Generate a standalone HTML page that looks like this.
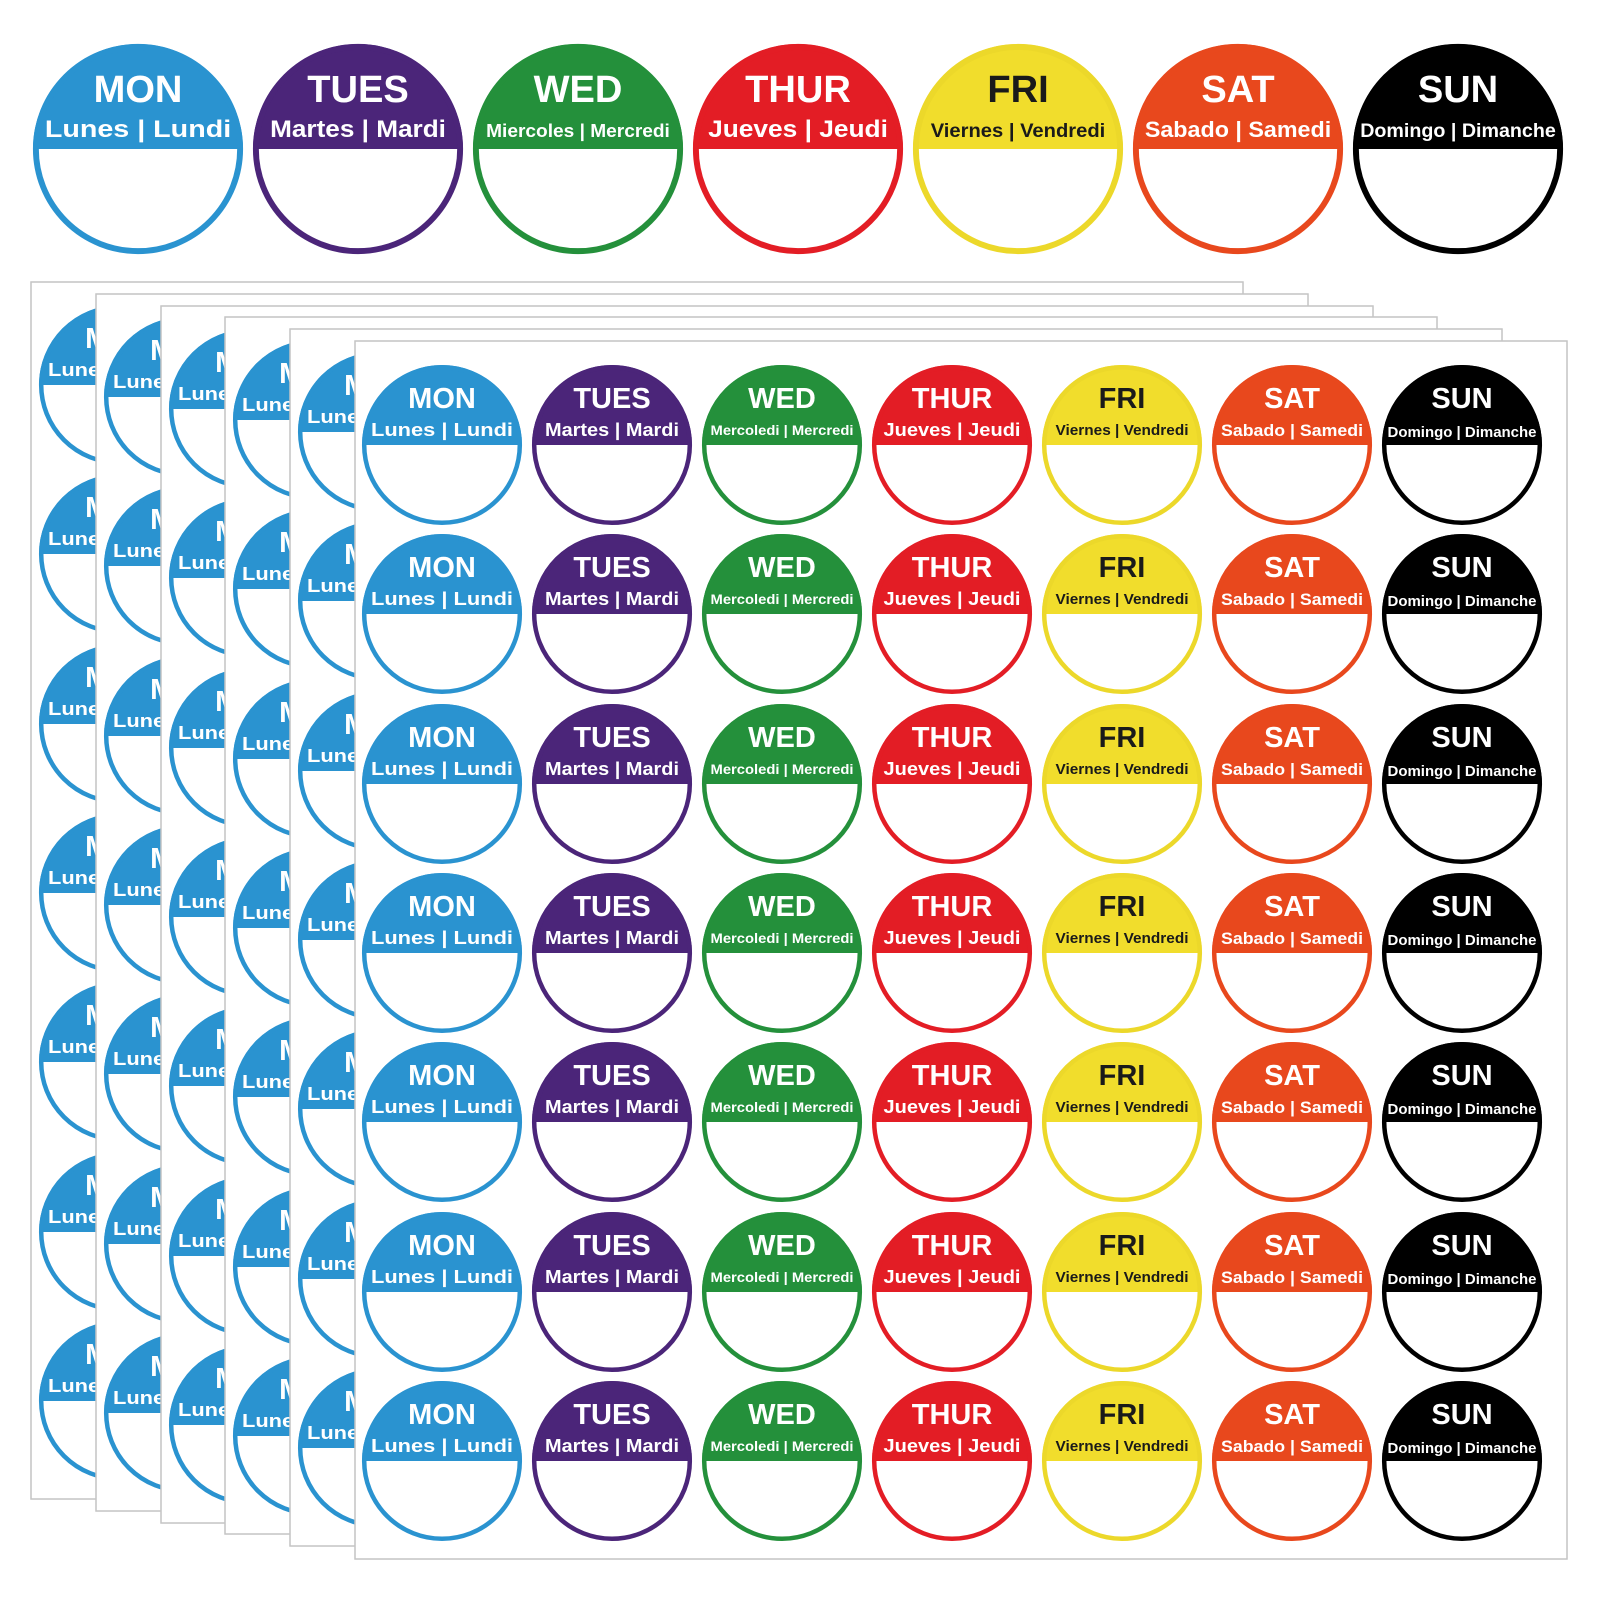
<!DOCTYPE html>
<html><head><meta charset="utf-8"><style>
html,body{margin:0;padding:0;background:#fff}
svg{display:block}
text{font-family:"Liberation Sans",Arial,sans-serif;font-weight:bold;text-anchor:middle;fill:#fff}
.d{font-size:29px}
.w{fill:#fff}
.o{fill:none;stroke-width:4.5}
.sh{fill:#fff;stroke:#c4c4c4;stroke-width:1.5}
.m path{fill:#2a93d0}.m .o{stroke:#2a93d0}.m .s{font-size:18px}
.t path{fill:#4b2579}.t .o{stroke:#4b2579}.t .s{font-size:18px}
.e path{fill:#24903b}.e .o{stroke:#24903b}.e .s{font-size:14px}
.h path{fill:#e31d25}.h .o{stroke:#e31d25}.h .s{font-size:18px}
.f path{fill:#f1dd2c}.f .o{stroke:#ecd82a}.f .s{font-size:15px}.f text{fill:#1a1a1a}
.a path{fill:#e8481d}.a .o{stroke:#e8481d}.a .s{font-size:17px}
.u path{fill:#000}.u .o{stroke:#000}.u .s{font-size:14.5px}
</style></head><body>
<svg width="1600" height="1600" viewBox="0 0 1600 1600" xmlns="http://www.w3.org/2000/svg">
<rect width="1600" height="1600" fill="#fff"/>

<!-- top row -->
<g class="m" transform="translate(138,149) scale(1.3125)"><circle r="80" class="w"/><path d="M-80 0A80 80 0 0 1 80 0Z"/><circle r="77.8" class="o"/><text y="-36" class="d">MON</text><text y="-9" class="s" textLength="142" lengthAdjust="spacingAndGlyphs">Lunes | Lundi</text></g>
<g class="t" transform="translate(358,149) scale(1.3125)"><circle r="80" class="w"/><path d="M-80 0A80 80 0 0 1 80 0Z"/><circle r="77.8" class="o"/><text y="-36" class="d">TUES</text><text y="-9" class="s" textLength="134" lengthAdjust="spacingAndGlyphs">Martes | Mardi</text></g>
<g class="e" transform="translate(578,149) scale(1.3125)"><circle r="80" class="w"/><path d="M-80 0A80 80 0 0 1 80 0Z"/><circle r="77.8" class="o"/><text y="-36" class="d">WED</text><text y="-9" class="s" textLength="140" lengthAdjust="spacingAndGlyphs">Miercoles | Mercredi</text></g>
<g class="h" transform="translate(798,149) scale(1.3125)"><circle r="80" class="w"/><path d="M-80 0A80 80 0 0 1 80 0Z"/><circle r="77.8" class="o"/><text y="-36" class="d">THUR</text><text y="-9" class="s" textLength="137" lengthAdjust="spacingAndGlyphs">Jueves | Jeudi</text></g>
<g class="f" transform="translate(1018,149) scale(1.3125)"><circle r="80" class="w"/><path d="M-80 0A80 80 0 0 1 80 0Z"/><circle r="77.8" class="o"/><text y="-36" class="d">FRI</text><text y="-9" class="s" textLength="133" lengthAdjust="spacingAndGlyphs">Viernes | Vendredi</text></g>
<g class="a" transform="translate(1238,149) scale(1.3125)"><circle r="80" class="w"/><path d="M-80 0A80 80 0 0 1 80 0Z"/><circle r="77.8" class="o"/><text y="-36" class="d">SAT</text><text y="-9" class="s" textLength="142" lengthAdjust="spacingAndGlyphs">Sabado | Samedi</text></g>
<g class="u" transform="translate(1458,149) scale(1.3125)"><circle r="80" class="w"/><path d="M-80 0A80 80 0 0 1 80 0Z"/><circle r="77.8" class="o"/><text y="-36" class="d">SUN</text><text y="-9" class="s" textLength="149" lengthAdjust="spacingAndGlyphs">Domingo | Dimanche</text></g>

<!-- sheet 0 -->
<rect class="sh" x="31" y="282" width="1212" height="1217"/>
<g class="m" transform="translate(119,385)"><circle r="80" class="w"/><path d="M-80 0A80 80 0 0 1 80 0Z"/><circle r="77.8" class="o"/><text y="-37" class="d">MON</text><text y="-9" class="s" textLength="142" lengthAdjust="spacingAndGlyphs">Lunes | Lundi</text></g>
<g class="m" transform="translate(119,554)"><circle r="80" class="w"/><path d="M-80 0A80 80 0 0 1 80 0Z"/><circle r="77.8" class="o"/><text y="-37" class="d">MON</text><text y="-9" class="s" textLength="142" lengthAdjust="spacingAndGlyphs">Lunes | Lundi</text></g>
<g class="m" transform="translate(119,724)"><circle r="80" class="w"/><path d="M-80 0A80 80 0 0 1 80 0Z"/><circle r="77.8" class="o"/><text y="-37" class="d">MON</text><text y="-9" class="s" textLength="142" lengthAdjust="spacingAndGlyphs">Lunes | Lundi</text></g>
<g class="m" transform="translate(119,893)"><circle r="80" class="w"/><path d="M-80 0A80 80 0 0 1 80 0Z"/><circle r="77.8" class="o"/><text y="-37" class="d">MON</text><text y="-9" class="s" textLength="142" lengthAdjust="spacingAndGlyphs">Lunes | Lundi</text></g>
<g class="m" transform="translate(119,1062)"><circle r="80" class="w"/><path d="M-80 0A80 80 0 0 1 80 0Z"/><circle r="77.8" class="o"/><text y="-37" class="d">MON</text><text y="-9" class="s" textLength="142" lengthAdjust="spacingAndGlyphs">Lunes | Lundi</text></g>
<g class="m" transform="translate(119,1232)"><circle r="80" class="w"/><path d="M-80 0A80 80 0 0 1 80 0Z"/><circle r="77.8" class="o"/><text y="-37" class="d">MON</text><text y="-9" class="s" textLength="142" lengthAdjust="spacingAndGlyphs">Lunes | Lundi</text></g>
<g class="m" transform="translate(119,1401)"><circle r="80" class="w"/><path d="M-80 0A80 80 0 0 1 80 0Z"/><circle r="77.8" class="o"/><text y="-37" class="d">MON</text><text y="-9" class="s" textLength="142" lengthAdjust="spacingAndGlyphs">Lunes | Lundi</text></g>

<!-- sheet 1 -->
<rect class="sh" x="96" y="294" width="1212" height="1217"/>
<g class="m" transform="translate(184,397)"><circle r="80" class="w"/><path d="M-80 0A80 80 0 0 1 80 0Z"/><circle r="77.8" class="o"/><text y="-37" class="d">MON</text><text y="-9" class="s" textLength="142" lengthAdjust="spacingAndGlyphs">Lunes | Lundi</text></g>
<g class="m" transform="translate(184,566)"><circle r="80" class="w"/><path d="M-80 0A80 80 0 0 1 80 0Z"/><circle r="77.8" class="o"/><text y="-37" class="d">MON</text><text y="-9" class="s" textLength="142" lengthAdjust="spacingAndGlyphs">Lunes | Lundi</text></g>
<g class="m" transform="translate(184,736)"><circle r="80" class="w"/><path d="M-80 0A80 80 0 0 1 80 0Z"/><circle r="77.8" class="o"/><text y="-37" class="d">MON</text><text y="-9" class="s" textLength="142" lengthAdjust="spacingAndGlyphs">Lunes | Lundi</text></g>
<g class="m" transform="translate(184,905)"><circle r="80" class="w"/><path d="M-80 0A80 80 0 0 1 80 0Z"/><circle r="77.8" class="o"/><text y="-37" class="d">MON</text><text y="-9" class="s" textLength="142" lengthAdjust="spacingAndGlyphs">Lunes | Lundi</text></g>
<g class="m" transform="translate(184,1074)"><circle r="80" class="w"/><path d="M-80 0A80 80 0 0 1 80 0Z"/><circle r="77.8" class="o"/><text y="-37" class="d">MON</text><text y="-9" class="s" textLength="142" lengthAdjust="spacingAndGlyphs">Lunes | Lundi</text></g>
<g class="m" transform="translate(184,1244)"><circle r="80" class="w"/><path d="M-80 0A80 80 0 0 1 80 0Z"/><circle r="77.8" class="o"/><text y="-37" class="d">MON</text><text y="-9" class="s" textLength="142" lengthAdjust="spacingAndGlyphs">Lunes | Lundi</text></g>
<g class="m" transform="translate(184,1413)"><circle r="80" class="w"/><path d="M-80 0A80 80 0 0 1 80 0Z"/><circle r="77.8" class="o"/><text y="-37" class="d">MON</text><text y="-9" class="s" textLength="142" lengthAdjust="spacingAndGlyphs">Lunes | Lundi</text></g>

<!-- sheet 2 -->
<rect class="sh" x="161" y="306" width="1212" height="1217"/>
<g class="m" transform="translate(249,409)"><circle r="80" class="w"/><path d="M-80 0A80 80 0 0 1 80 0Z"/><circle r="77.8" class="o"/><text y="-37" class="d">MON</text><text y="-9" class="s" textLength="142" lengthAdjust="spacingAndGlyphs">Lunes | Lundi</text></g>
<g class="m" transform="translate(249,578)"><circle r="80" class="w"/><path d="M-80 0A80 80 0 0 1 80 0Z"/><circle r="77.8" class="o"/><text y="-37" class="d">MON</text><text y="-9" class="s" textLength="142" lengthAdjust="spacingAndGlyphs">Lunes | Lundi</text></g>
<g class="m" transform="translate(249,748)"><circle r="80" class="w"/><path d="M-80 0A80 80 0 0 1 80 0Z"/><circle r="77.8" class="o"/><text y="-37" class="d">MON</text><text y="-9" class="s" textLength="142" lengthAdjust="spacingAndGlyphs">Lunes | Lundi</text></g>
<g class="m" transform="translate(249,917)"><circle r="80" class="w"/><path d="M-80 0A80 80 0 0 1 80 0Z"/><circle r="77.8" class="o"/><text y="-37" class="d">MON</text><text y="-9" class="s" textLength="142" lengthAdjust="spacingAndGlyphs">Lunes | Lundi</text></g>
<g class="m" transform="translate(249,1086)"><circle r="80" class="w"/><path d="M-80 0A80 80 0 0 1 80 0Z"/><circle r="77.8" class="o"/><text y="-37" class="d">MON</text><text y="-9" class="s" textLength="142" lengthAdjust="spacingAndGlyphs">Lunes | Lundi</text></g>
<g class="m" transform="translate(249,1256)"><circle r="80" class="w"/><path d="M-80 0A80 80 0 0 1 80 0Z"/><circle r="77.8" class="o"/><text y="-37" class="d">MON</text><text y="-9" class="s" textLength="142" lengthAdjust="spacingAndGlyphs">Lunes | Lundi</text></g>
<g class="m" transform="translate(249,1425)"><circle r="80" class="w"/><path d="M-80 0A80 80 0 0 1 80 0Z"/><circle r="77.8" class="o"/><text y="-37" class="d">MON</text><text y="-9" class="s" textLength="142" lengthAdjust="spacingAndGlyphs">Lunes | Lundi</text></g>

<!-- sheet 3 -->
<rect class="sh" x="225" y="317" width="1212" height="1217"/>
<g class="m" transform="translate(313,420)"><circle r="80" class="w"/><path d="M-80 0A80 80 0 0 1 80 0Z"/><circle r="77.8" class="o"/><text y="-37" class="d">MON</text><text y="-9" class="s" textLength="142" lengthAdjust="spacingAndGlyphs">Lunes | Lundi</text></g>
<g class="m" transform="translate(313,589)"><circle r="80" class="w"/><path d="M-80 0A80 80 0 0 1 80 0Z"/><circle r="77.8" class="o"/><text y="-37" class="d">MON</text><text y="-9" class="s" textLength="142" lengthAdjust="spacingAndGlyphs">Lunes | Lundi</text></g>
<g class="m" transform="translate(313,759)"><circle r="80" class="w"/><path d="M-80 0A80 80 0 0 1 80 0Z"/><circle r="77.8" class="o"/><text y="-37" class="d">MON</text><text y="-9" class="s" textLength="142" lengthAdjust="spacingAndGlyphs">Lunes | Lundi</text></g>
<g class="m" transform="translate(313,928)"><circle r="80" class="w"/><path d="M-80 0A80 80 0 0 1 80 0Z"/><circle r="77.8" class="o"/><text y="-37" class="d">MON</text><text y="-9" class="s" textLength="142" lengthAdjust="spacingAndGlyphs">Lunes | Lundi</text></g>
<g class="m" transform="translate(313,1097)"><circle r="80" class="w"/><path d="M-80 0A80 80 0 0 1 80 0Z"/><circle r="77.8" class="o"/><text y="-37" class="d">MON</text><text y="-9" class="s" textLength="142" lengthAdjust="spacingAndGlyphs">Lunes | Lundi</text></g>
<g class="m" transform="translate(313,1267)"><circle r="80" class="w"/><path d="M-80 0A80 80 0 0 1 80 0Z"/><circle r="77.8" class="o"/><text y="-37" class="d">MON</text><text y="-9" class="s" textLength="142" lengthAdjust="spacingAndGlyphs">Lunes | Lundi</text></g>
<g class="m" transform="translate(313,1436)"><circle r="80" class="w"/><path d="M-80 0A80 80 0 0 1 80 0Z"/><circle r="77.8" class="o"/><text y="-37" class="d">MON</text><text y="-9" class="s" textLength="142" lengthAdjust="spacingAndGlyphs">Lunes | Lundi</text></g>

<!-- sheet 4 -->
<rect class="sh" x="290" y="329" width="1212" height="1217"/>
<g class="m" transform="translate(378,432)"><circle r="80" class="w"/><path d="M-80 0A80 80 0 0 1 80 0Z"/><circle r="77.8" class="o"/><text y="-37" class="d">MON</text><text y="-9" class="s" textLength="142" lengthAdjust="spacingAndGlyphs">Lunes | Lundi</text></g>
<g class="m" transform="translate(378,601)"><circle r="80" class="w"/><path d="M-80 0A80 80 0 0 1 80 0Z"/><circle r="77.8" class="o"/><text y="-37" class="d">MON</text><text y="-9" class="s" textLength="142" lengthAdjust="spacingAndGlyphs">Lunes | Lundi</text></g>
<g class="m" transform="translate(378,771)"><circle r="80" class="w"/><path d="M-80 0A80 80 0 0 1 80 0Z"/><circle r="77.8" class="o"/><text y="-37" class="d">MON</text><text y="-9" class="s" textLength="142" lengthAdjust="spacingAndGlyphs">Lunes | Lundi</text></g>
<g class="m" transform="translate(378,940)"><circle r="80" class="w"/><path d="M-80 0A80 80 0 0 1 80 0Z"/><circle r="77.8" class="o"/><text y="-37" class="d">MON</text><text y="-9" class="s" textLength="142" lengthAdjust="spacingAndGlyphs">Lunes | Lundi</text></g>
<g class="m" transform="translate(378,1109)"><circle r="80" class="w"/><path d="M-80 0A80 80 0 0 1 80 0Z"/><circle r="77.8" class="o"/><text y="-37" class="d">MON</text><text y="-9" class="s" textLength="142" lengthAdjust="spacingAndGlyphs">Lunes | Lundi</text></g>
<g class="m" transform="translate(378,1279)"><circle r="80" class="w"/><path d="M-80 0A80 80 0 0 1 80 0Z"/><circle r="77.8" class="o"/><text y="-37" class="d">MON</text><text y="-9" class="s" textLength="142" lengthAdjust="spacingAndGlyphs">Lunes | Lundi</text></g>
<g class="m" transform="translate(378,1448)"><circle r="80" class="w"/><path d="M-80 0A80 80 0 0 1 80 0Z"/><circle r="77.8" class="o"/><text y="-37" class="d">MON</text><text y="-9" class="s" textLength="142" lengthAdjust="spacingAndGlyphs">Lunes | Lundi</text></g>

<!-- front sheet -->
<rect class="sh" x="355" y="341" width="1212" height="1218"/>
<g class="m" transform="translate(442,445)"><circle r="80" class="w"/><path d="M-80 0A80 80 0 0 1 80 0Z"/><circle r="77.8" class="o"/><text y="-37" class="d">MON</text><text y="-9" class="s" textLength="142" lengthAdjust="spacingAndGlyphs">Lunes | Lundi</text></g>
<g class="m" transform="translate(442,614)"><circle r="80" class="w"/><path d="M-80 0A80 80 0 0 1 80 0Z"/><circle r="77.8" class="o"/><text y="-37" class="d">MON</text><text y="-9" class="s" textLength="142" lengthAdjust="spacingAndGlyphs">Lunes | Lundi</text></g>
<g class="m" transform="translate(442,784)"><circle r="80" class="w"/><path d="M-80 0A80 80 0 0 1 80 0Z"/><circle r="77.8" class="o"/><text y="-37" class="d">MON</text><text y="-9" class="s" textLength="142" lengthAdjust="spacingAndGlyphs">Lunes | Lundi</text></g>
<g class="m" transform="translate(442,953)"><circle r="80" class="w"/><path d="M-80 0A80 80 0 0 1 80 0Z"/><circle r="77.8" class="o"/><text y="-37" class="d">MON</text><text y="-9" class="s" textLength="142" lengthAdjust="spacingAndGlyphs">Lunes | Lundi</text></g>
<g class="m" transform="translate(442,1122)"><circle r="80" class="w"/><path d="M-80 0A80 80 0 0 1 80 0Z"/><circle r="77.8" class="o"/><text y="-37" class="d">MON</text><text y="-9" class="s" textLength="142" lengthAdjust="spacingAndGlyphs">Lunes | Lundi</text></g>
<g class="m" transform="translate(442,1292)"><circle r="80" class="w"/><path d="M-80 0A80 80 0 0 1 80 0Z"/><circle r="77.8" class="o"/><text y="-37" class="d">MON</text><text y="-9" class="s" textLength="142" lengthAdjust="spacingAndGlyphs">Lunes | Lundi</text></g>
<g class="m" transform="translate(442,1461)"><circle r="80" class="w"/><path d="M-80 0A80 80 0 0 1 80 0Z"/><circle r="77.8" class="o"/><text y="-37" class="d">MON</text><text y="-9" class="s" textLength="142" lengthAdjust="spacingAndGlyphs">Lunes | Lundi</text></g>

<g class="t" transform="translate(612,445)"><circle r="80" class="w"/><path d="M-80 0A80 80 0 0 1 80 0Z"/><circle r="77.8" class="o"/><text y="-37" class="d">TUES</text><text y="-9" class="s" textLength="134" lengthAdjust="spacingAndGlyphs">Martes | Mardi</text></g>
<g class="t" transform="translate(612,614)"><circle r="80" class="w"/><path d="M-80 0A80 80 0 0 1 80 0Z"/><circle r="77.8" class="o"/><text y="-37" class="d">TUES</text><text y="-9" class="s" textLength="134" lengthAdjust="spacingAndGlyphs">Martes | Mardi</text></g>
<g class="t" transform="translate(612,784)"><circle r="80" class="w"/><path d="M-80 0A80 80 0 0 1 80 0Z"/><circle r="77.8" class="o"/><text y="-37" class="d">TUES</text><text y="-9" class="s" textLength="134" lengthAdjust="spacingAndGlyphs">Martes | Mardi</text></g>
<g class="t" transform="translate(612,953)"><circle r="80" class="w"/><path d="M-80 0A80 80 0 0 1 80 0Z"/><circle r="77.8" class="o"/><text y="-37" class="d">TUES</text><text y="-9" class="s" textLength="134" lengthAdjust="spacingAndGlyphs">Martes | Mardi</text></g>
<g class="t" transform="translate(612,1122)"><circle r="80" class="w"/><path d="M-80 0A80 80 0 0 1 80 0Z"/><circle r="77.8" class="o"/><text y="-37" class="d">TUES</text><text y="-9" class="s" textLength="134" lengthAdjust="spacingAndGlyphs">Martes | Mardi</text></g>
<g class="t" transform="translate(612,1292)"><circle r="80" class="w"/><path d="M-80 0A80 80 0 0 1 80 0Z"/><circle r="77.8" class="o"/><text y="-37" class="d">TUES</text><text y="-9" class="s" textLength="134" lengthAdjust="spacingAndGlyphs">Martes | Mardi</text></g>
<g class="t" transform="translate(612,1461)"><circle r="80" class="w"/><path d="M-80 0A80 80 0 0 1 80 0Z"/><circle r="77.8" class="o"/><text y="-37" class="d">TUES</text><text y="-9" class="s" textLength="134" lengthAdjust="spacingAndGlyphs">Martes | Mardi</text></g>

<g class="e" transform="translate(782,445)"><circle r="80" class="w"/><path d="M-80 0A80 80 0 0 1 80 0Z"/><circle r="77.8" class="o"/><text y="-37" class="d">WED</text><text y="-10" class="s" textLength="143" lengthAdjust="spacingAndGlyphs">Mercoledi | Mercredi</text></g>
<g class="e" transform="translate(782,614)"><circle r="80" class="w"/><path d="M-80 0A80 80 0 0 1 80 0Z"/><circle r="77.8" class="o"/><text y="-37" class="d">WED</text><text y="-10" class="s" textLength="143" lengthAdjust="spacingAndGlyphs">Mercoledi | Mercredi</text></g>
<g class="e" transform="translate(782,784)"><circle r="80" class="w"/><path d="M-80 0A80 80 0 0 1 80 0Z"/><circle r="77.8" class="o"/><text y="-37" class="d">WED</text><text y="-10" class="s" textLength="143" lengthAdjust="spacingAndGlyphs">Mercoledi | Mercredi</text></g>
<g class="e" transform="translate(782,953)"><circle r="80" class="w"/><path d="M-80 0A80 80 0 0 1 80 0Z"/><circle r="77.8" class="o"/><text y="-37" class="d">WED</text><text y="-10" class="s" textLength="143" lengthAdjust="spacingAndGlyphs">Mercoledi | Mercredi</text></g>
<g class="e" transform="translate(782,1122)"><circle r="80" class="w"/><path d="M-80 0A80 80 0 0 1 80 0Z"/><circle r="77.8" class="o"/><text y="-37" class="d">WED</text><text y="-10" class="s" textLength="143" lengthAdjust="spacingAndGlyphs">Mercoledi | Mercredi</text></g>
<g class="e" transform="translate(782,1292)"><circle r="80" class="w"/><path d="M-80 0A80 80 0 0 1 80 0Z"/><circle r="77.8" class="o"/><text y="-37" class="d">WED</text><text y="-10" class="s" textLength="143" lengthAdjust="spacingAndGlyphs">Mercoledi | Mercredi</text></g>
<g class="e" transform="translate(782,1461)"><circle r="80" class="w"/><path d="M-80 0A80 80 0 0 1 80 0Z"/><circle r="77.8" class="o"/><text y="-37" class="d">WED</text><text y="-10" class="s" textLength="143" lengthAdjust="spacingAndGlyphs">Mercoledi | Mercredi</text></g>

<g class="h" transform="translate(952,445)"><circle r="80" class="w"/><path d="M-80 0A80 80 0 0 1 80 0Z"/><circle r="77.8" class="o"/><text y="-37" class="d">THUR</text><text y="-9" class="s" textLength="137" lengthAdjust="spacingAndGlyphs">Jueves | Jeudi</text></g>
<g class="h" transform="translate(952,614)"><circle r="80" class="w"/><path d="M-80 0A80 80 0 0 1 80 0Z"/><circle r="77.8" class="o"/><text y="-37" class="d">THUR</text><text y="-9" class="s" textLength="137" lengthAdjust="spacingAndGlyphs">Jueves | Jeudi</text></g>
<g class="h" transform="translate(952,784)"><circle r="80" class="w"/><path d="M-80 0A80 80 0 0 1 80 0Z"/><circle r="77.8" class="o"/><text y="-37" class="d">THUR</text><text y="-9" class="s" textLength="137" lengthAdjust="spacingAndGlyphs">Jueves | Jeudi</text></g>
<g class="h" transform="translate(952,953)"><circle r="80" class="w"/><path d="M-80 0A80 80 0 0 1 80 0Z"/><circle r="77.8" class="o"/><text y="-37" class="d">THUR</text><text y="-9" class="s" textLength="137" lengthAdjust="spacingAndGlyphs">Jueves | Jeudi</text></g>
<g class="h" transform="translate(952,1122)"><circle r="80" class="w"/><path d="M-80 0A80 80 0 0 1 80 0Z"/><circle r="77.8" class="o"/><text y="-37" class="d">THUR</text><text y="-9" class="s" textLength="137" lengthAdjust="spacingAndGlyphs">Jueves | Jeudi</text></g>
<g class="h" transform="translate(952,1292)"><circle r="80" class="w"/><path d="M-80 0A80 80 0 0 1 80 0Z"/><circle r="77.8" class="o"/><text y="-37" class="d">THUR</text><text y="-9" class="s" textLength="137" lengthAdjust="spacingAndGlyphs">Jueves | Jeudi</text></g>
<g class="h" transform="translate(952,1461)"><circle r="80" class="w"/><path d="M-80 0A80 80 0 0 1 80 0Z"/><circle r="77.8" class="o"/><text y="-37" class="d">THUR</text><text y="-9" class="s" textLength="137" lengthAdjust="spacingAndGlyphs">Jueves | Jeudi</text></g>

<g class="f" transform="translate(1122,445)"><circle r="80" class="w"/><path d="M-80 0A80 80 0 0 1 80 0Z"/><circle r="77.8" class="o"/><text y="-37" class="d">FRI</text><text y="-10" class="s" textLength="133" lengthAdjust="spacingAndGlyphs">Viernes | Vendredi</text></g>
<g class="f" transform="translate(1122,614)"><circle r="80" class="w"/><path d="M-80 0A80 80 0 0 1 80 0Z"/><circle r="77.8" class="o"/><text y="-37" class="d">FRI</text><text y="-10" class="s" textLength="133" lengthAdjust="spacingAndGlyphs">Viernes | Vendredi</text></g>
<g class="f" transform="translate(1122,784)"><circle r="80" class="w"/><path d="M-80 0A80 80 0 0 1 80 0Z"/><circle r="77.8" class="o"/><text y="-37" class="d">FRI</text><text y="-10" class="s" textLength="133" lengthAdjust="spacingAndGlyphs">Viernes | Vendredi</text></g>
<g class="f" transform="translate(1122,953)"><circle r="80" class="w"/><path d="M-80 0A80 80 0 0 1 80 0Z"/><circle r="77.8" class="o"/><text y="-37" class="d">FRI</text><text y="-10" class="s" textLength="133" lengthAdjust="spacingAndGlyphs">Viernes | Vendredi</text></g>
<g class="f" transform="translate(1122,1122)"><circle r="80" class="w"/><path d="M-80 0A80 80 0 0 1 80 0Z"/><circle r="77.8" class="o"/><text y="-37" class="d">FRI</text><text y="-10" class="s" textLength="133" lengthAdjust="spacingAndGlyphs">Viernes | Vendredi</text></g>
<g class="f" transform="translate(1122,1292)"><circle r="80" class="w"/><path d="M-80 0A80 80 0 0 1 80 0Z"/><circle r="77.8" class="o"/><text y="-37" class="d">FRI</text><text y="-10" class="s" textLength="133" lengthAdjust="spacingAndGlyphs">Viernes | Vendredi</text></g>
<g class="f" transform="translate(1122,1461)"><circle r="80" class="w"/><path d="M-80 0A80 80 0 0 1 80 0Z"/><circle r="77.8" class="o"/><text y="-37" class="d">FRI</text><text y="-10" class="s" textLength="133" lengthAdjust="spacingAndGlyphs">Viernes | Vendredi</text></g>

<g class="a" transform="translate(1292,445)"><circle r="80" class="w"/><path d="M-80 0A80 80 0 0 1 80 0Z"/><circle r="77.8" class="o"/><text y="-37" class="d">SAT</text><text y="-9" class="s" textLength="142" lengthAdjust="spacingAndGlyphs">Sabado | Samedi</text></g>
<g class="a" transform="translate(1292,614)"><circle r="80" class="w"/><path d="M-80 0A80 80 0 0 1 80 0Z"/><circle r="77.8" class="o"/><text y="-37" class="d">SAT</text><text y="-9" class="s" textLength="142" lengthAdjust="spacingAndGlyphs">Sabado | Samedi</text></g>
<g class="a" transform="translate(1292,784)"><circle r="80" class="w"/><path d="M-80 0A80 80 0 0 1 80 0Z"/><circle r="77.8" class="o"/><text y="-37" class="d">SAT</text><text y="-9" class="s" textLength="142" lengthAdjust="spacingAndGlyphs">Sabado | Samedi</text></g>
<g class="a" transform="translate(1292,953)"><circle r="80" class="w"/><path d="M-80 0A80 80 0 0 1 80 0Z"/><circle r="77.8" class="o"/><text y="-37" class="d">SAT</text><text y="-9" class="s" textLength="142" lengthAdjust="spacingAndGlyphs">Sabado | Samedi</text></g>
<g class="a" transform="translate(1292,1122)"><circle r="80" class="w"/><path d="M-80 0A80 80 0 0 1 80 0Z"/><circle r="77.8" class="o"/><text y="-37" class="d">SAT</text><text y="-9" class="s" textLength="142" lengthAdjust="spacingAndGlyphs">Sabado | Samedi</text></g>
<g class="a" transform="translate(1292,1292)"><circle r="80" class="w"/><path d="M-80 0A80 80 0 0 1 80 0Z"/><circle r="77.8" class="o"/><text y="-37" class="d">SAT</text><text y="-9" class="s" textLength="142" lengthAdjust="spacingAndGlyphs">Sabado | Samedi</text></g>
<g class="a" transform="translate(1292,1461)"><circle r="80" class="w"/><path d="M-80 0A80 80 0 0 1 80 0Z"/><circle r="77.8" class="o"/><text y="-37" class="d">SAT</text><text y="-9" class="s" textLength="142" lengthAdjust="spacingAndGlyphs">Sabado | Samedi</text></g>

<g class="u" transform="translate(1462,445)"><circle r="80" class="w"/><path d="M-80 0A80 80 0 0 1 80 0Z"/><circle r="77.8" class="o"/><text y="-37" class="d">SUN</text><text y="-8" class="s" textLength="149" lengthAdjust="spacingAndGlyphs">Domingo | Dimanche</text></g>
<g class="u" transform="translate(1462,614)"><circle r="80" class="w"/><path d="M-80 0A80 80 0 0 1 80 0Z"/><circle r="77.8" class="o"/><text y="-37" class="d">SUN</text><text y="-8" class="s" textLength="149" lengthAdjust="spacingAndGlyphs">Domingo | Dimanche</text></g>
<g class="u" transform="translate(1462,784)"><circle r="80" class="w"/><path d="M-80 0A80 80 0 0 1 80 0Z"/><circle r="77.8" class="o"/><text y="-37" class="d">SUN</text><text y="-8" class="s" textLength="149" lengthAdjust="spacingAndGlyphs">Domingo | Dimanche</text></g>
<g class="u" transform="translate(1462,953)"><circle r="80" class="w"/><path d="M-80 0A80 80 0 0 1 80 0Z"/><circle r="77.8" class="o"/><text y="-37" class="d">SUN</text><text y="-8" class="s" textLength="149" lengthAdjust="spacingAndGlyphs">Domingo | Dimanche</text></g>
<g class="u" transform="translate(1462,1122)"><circle r="80" class="w"/><path d="M-80 0A80 80 0 0 1 80 0Z"/><circle r="77.8" class="o"/><text y="-37" class="d">SUN</text><text y="-8" class="s" textLength="149" lengthAdjust="spacingAndGlyphs">Domingo | Dimanche</text></g>
<g class="u" transform="translate(1462,1292)"><circle r="80" class="w"/><path d="M-80 0A80 80 0 0 1 80 0Z"/><circle r="77.8" class="o"/><text y="-37" class="d">SUN</text><text y="-8" class="s" textLength="149" lengthAdjust="spacingAndGlyphs">Domingo | Dimanche</text></g>
<g class="u" transform="translate(1462,1461)"><circle r="80" class="w"/><path d="M-80 0A80 80 0 0 1 80 0Z"/><circle r="77.8" class="o"/><text y="-37" class="d">SUN</text><text y="-8" class="s" textLength="149" lengthAdjust="spacingAndGlyphs">Domingo | Dimanche</text></g>
</svg>
</body></html>
